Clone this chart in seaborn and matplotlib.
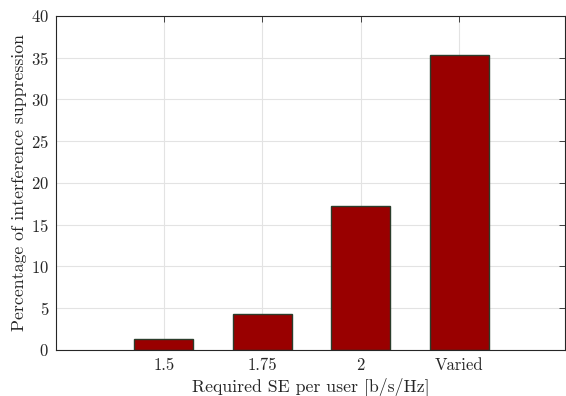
import matplotlib
matplotlib.use("Agg")
import matplotlib.pyplot as plt
import seaborn as sns
import pandas as pd

categories = ["1.5", "1.75", "2", "Varied"]
values = [1.3, 4.3, 17.2, 35.3]

df = pd.DataFrame({"se": categories, "pct": values})

sns.set_style("white")
plt.rcParams["font.family"] = ["cmr10", "DejaVu Serif"]
plt.rcParams["axes.formatter.use_mathtext"] = True
plt.rcParams["mathtext.fontset"] = "cm"

fig = plt.figure(figsize=(5.66, 3.96), dpi=100)
ax = fig.add_axes([56 / 566, 1 - 349.7 / 396, (565 - 56) / 566, (349.7 - 16) / 396])

sns.barplot(data=df, x="se", y="pct", ax=ax, color="#990000", saturation=1,
            width=0.6, edgecolor="#2b3d2b", linewidth=1.0, zorder=3)

ax.set_xlim(-1.096, 4.076)
ax.set_ylim(0, 40)
ax.set_yticks(range(0, 41, 5))
ax.grid(True, color="#e3e3e3", linewidth=0.8, zorder=0)
ax.set_axisbelow(True)
for s in ax.spines.values():
    s.set_visible(True)
    s.set_color("#262626")
    s.set_linewidth(0.8)
    s.set_zorder(5)
ax.tick_params(direction="in", length=4, width=0.6, color="#262626",
               top=True, right=True, labelsize=12, labelcolor="#262626")
ax.tick_params(axis="x", pad=6)
ax.tick_params(axis="y", pad=5)
ax.set_xlabel("Required SE per user [b/s/Hz]", fontsize=12.8, color="#262626", labelpad=2.5)
ax.set_ylabel("Percentage of interference suppression", fontsize=12.8, color="#262626", labelpad=3)

fig.savefig("out.png", dpi=100)
